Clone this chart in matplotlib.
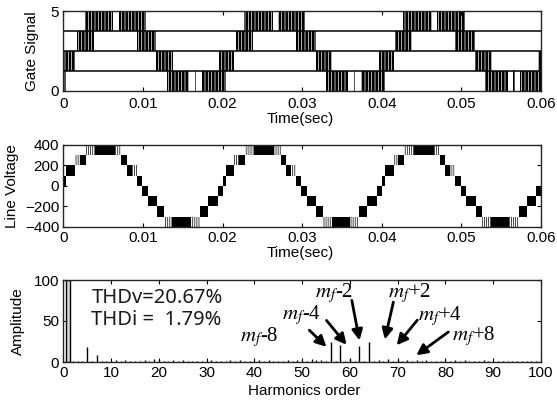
import matplotlib
matplotlib.use('Agg')
import matplotlib.pyplot as plt

plt.rcParams['font.family'] = ['Liberation Sans', 'DejaVu Sans']
plt.rcParams['mathtext.fontset'] = 'stix'
plt.rcParams['hatch.linewidth'] = 0.5

# ---- data ----
# gate signal: pulse windows (s) for one 20 ms cycle, lane 0 = bottom
cycle_offsets = [-0.02, 0.0, 0.02, 0.04, 0.06]
lane0_win = [(0.0130, 0.0158), (0.0165, 0.0167), (0.0174, 0.0204)]
lane1_win = [(-0.0004, 0.0015), (0.0117, 0.0138)]
lane2_win = [(0.0017, 0.0038), (0.0092, 0.0117)]
lane3_win = [(0.0027, 0.0063), (0.0070, 0.0104)]
lane_height = 1.25

# line voltage: staircase bands for one cycle (start, end, lower level, solid?)
volt_start = [0.0000, 0.0004, 0.0015, 0.0021, 0.0028, 0.0040, 0.0065, 0.0073, 0.0080, 0.0086,
              0.0092, 0.0099, 0.0106, 0.0118, 0.0126, 0.0137, 0.0160, 0.0172, 0.0182, 0.0194]
volt_end = [0.0004, 0.0015, 0.0021, 0.0028, 0.0040, 0.0065, 0.0073, 0.0080, 0.0086, 0.0092,
            0.0099, 0.0106, 0.0118, 0.0126, 0.0137, 0.0160, 0.0172, 0.0182, 0.0194, 0.0200]
volt_low = [0, 100, 200, 200, 300, 300, 300, 200, 100, 100,
            0, -100, -200, -300, -400, -400, -400, -300, -200, -100]
volt_solid = [1, 1, 0, 1, 0, 1, 0, 1, 1, 0,
              1, 1, 1, 1, 0, 1, 0, 1, 1, 1]
volt_cycles = [0.0, 0.02, 0.04]
step_v = 100

# harmonic spectrum, orders 1..100 (% of fundamental)
harm_amp = [100, 1, 1.5, 1, 18, 1, 8, 1, 1.5, 1,
            3, 1, 2.5, 1, 1.5, 1, 2, 1, 4, 3,
            1.5, 1, 2, 1.5, 2, 1, 1.5, 1, 1.5, 1,
            2.5, 1, 1.5, 1, 2, 1, 2, 1, 1.5, 1,
            2.5, 1, 2, 1, 1.5, 1, 2, 1, 2, 1.5,
            1.5, 4, 2, 2, 1.5, 24, 1.5, 21, 1.5, 4,
            1.5, 20, 1.5, 24, 1.5, 2, 1.5, 4, 1.5, 3,
            1.5, 2, 1.5, 2, 1.5, 2, 1, 1.5, 1.5, 2,
            1, 2, 1, 2, 1, 1.5, 1, 2, 1, 1.5,
            1, 1.5, 1, 1.5, 1, 1.5, 1, 1.5, 1, 1.5]
harm_order = list(range(1, len(harm_amp) + 1))

mf_labels = ['$m_f$-8', '$m_f$-4', '$m_f$-2', '$m_f$+2', '$m_f$+4', '$m_f$+8']
mf_text_x = [37.0, 45.8, 52.7, 67.9, 74.2, 81.4]
mf_text_y = [25.5, 52.0, 79.0, 79.0, 51.0, 26.5]
arrow_tail_x = [51.5, 55.1, 60.4, 69.1, 74.1, 80.6]
arrow_tail_y = [38.8, 50.7, 75.1, 73.1, 51.0, 36.6]
arrow_tip_x = [55.1, 59.3, 62.0, 67.3, 69.8, 73.9]
arrow_tip_y = [18.4, 21.0, 26.3, 27.5, 20.4, 8.2]

thd_lines = ['THDv=20.67%', 'THDi =  1.79%']

time_ticks = [0, 0.01, 0.02, 0.03, 0.04, 0.05, 0.06]
time_labels = ['0', '0.01', '0.02', '0.03', '0.04', '0.05', '0.06']

# ---- figure ----
W, H = 557, 405
fig = plt.figure(figsize=(W / 100, H / 100), dpi=100)


def px_axes(left, top, right, bottom):
    return fig.add_axes([left / W, 1 - bottom / H, (right - left) / W, (bottom - top) / H])


ax1 = px_axes(63.3, 11, 541, 91)
ax2 = px_axes(63.3, 145, 541, 227)
ax3 = px_axes(63.3, 280, 541, 362)

# gate signals
for lane, wins in enumerate([lane0_win, lane1_win, lane2_win, lane3_win]):
    for off in cycle_offsets:
        ax1.bar([a + off for a, b in wins], lane_height, width=[b - a for a, b in wins],
                bottom=lane * lane_height, align='edge', color='k', edgecolor='w',
                hatch='|||||', linewidth=0)
for lane in range(1, 4):
    ax1.axhline(lane * lane_height, color='k', lw=1.1)
ax1.set_xlim(0, 0.06)
ax1.set_ylim(0, 5)
ax1.set_yticks([0, 5])

# line voltage
for c in volt_cycles:
    for s, e, lo, solid in zip(volt_start, volt_end, volt_low, volt_solid):
        if solid:
            ax2.bar(s + c, step_v, width=e - s, bottom=lo, align='edge', color='k', linewidth=0)
        else:
            ax2.bar(s + c, step_v, width=e - s, bottom=lo, align='edge', facecolor='w',
                    edgecolor='k', hatch='||||||||', linewidth=0)
ax2.set_xlim(0, 0.06)
ax2.set_ylim(-400, 400)
ax2.set_yticks([-400, -200, 0, 200, 400])

for ax in (ax1, ax2):
    ax.set_xticks(time_ticks)
    ax.set_xticklabels(time_labels)

# spectrum
ax3.vlines(harm_order[1:], 0, harm_amp[1:], color='k', lw=1.0)
ax3.bar(harm_order[0], harm_amp[0], width=1.0, facecolor='0.85', edgecolor='k', lw=1.0)
for lab, tx, ty, ax_, ay, bx, by in zip(mf_labels, mf_text_x, mf_text_y, arrow_tail_x,
                                        arrow_tail_y, arrow_tip_x, arrow_tip_y):
    ax3.text(tx, ty, lab, fontsize=15, family='Liberation Serif', ha='left', va='baseline')
    ax3.annotate('', xy=(bx, by), xytext=(ax_, ay),
                 arrowprops=dict(arrowstyle='-|>', color='k', lw=2, mutation_scale=16,
                                 shrinkA=0, shrinkB=0))
ax3.text(5.9, 71.8, thd_lines[0], fontsize=14.5, family='Noto Sans', color='0.1', va='baseline')
ax3.text(5.9, 45.0, thd_lines[1], fontsize=14.5, family='Noto Sans', color='0.1', va='baseline')
ax3.set_xlim(0, 100)
ax3.set_ylim(0, 100)
ax3.set_xticks(range(0, 101, 10))
ax3.set_yticks([0, 50, 100])

for ax in (ax1, ax2, ax3):
    ax.tick_params(direction='in', top=True, right=True, length=3, width=0.8,
                   labelsize=11, pad=3)
    for sp in ax.spines.values():
        sp.set_linewidth(1.0)
        sp.set_color('0.15')
ax1.tick_params(axis='x', pad=4)

fig.text(300 / W, 1 - 119 / H, 'Time(sec)', ha='center', va='center', fontsize=11)
fig.text(300 / W, 1 - 253 / H, 'Time(sec)', ha='center', va='center', fontsize=11)
fig.text(304 / W, 1 - 391 / H, 'Harmonics order', ha='center', va='center', fontsize=11)
fig.text(32 / W, 1 - 51 / H, 'Gate Signal', ha='center', va='center', rotation=90, fontsize=11)
fig.text(12 / W, 1 - 186 / H, 'Line Voltage', ha='center', va='center', rotation=90, fontsize=11)
fig.text(18 / W, 1 - 321 / H, 'Amplitude', ha='center', va='center', rotation=90, fontsize=11)

fig.savefig('out.png', dpi=100)
